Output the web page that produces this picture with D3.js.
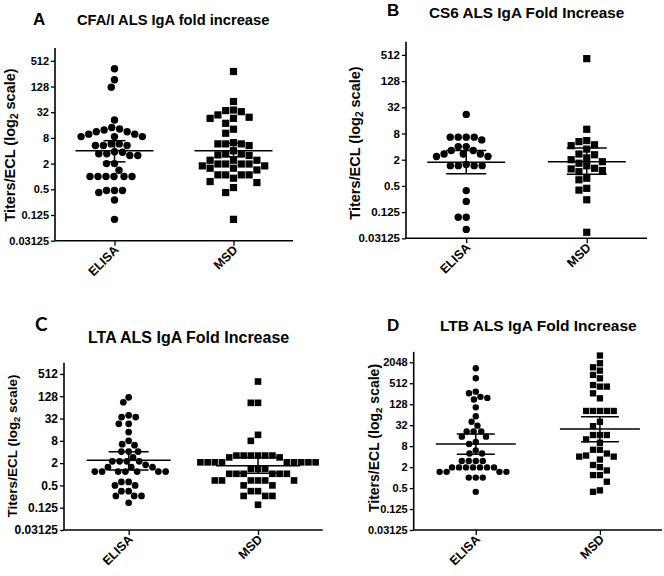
<!DOCTYPE html>
<html><head><meta charset="utf-8">
<script src="https://cdn.jsdelivr.net/npm/d3@7"></script>
<style>
html,body{margin:0;padding:0;background:#fff;}
svg{display:block;}
text{font-family:"Liberation Sans",Arial,sans-serif;font-weight:bold;fill:#000;}
</style></head>
<body>
<svg id="chart" width="664" height="576"></svg>
<script>
// ---------- DATA ----------
const categories = ["ELISA", "MSD"];
const panelLetters = ["A", "B", "C", "D"];
const panelTitles = ["CFA/I ALS IgA fold increase", "CS6 ALS IgA Fold Increase",
                     "LTA ALS IgA Fold Increase", "LTB ALS IgA Fold Increase"];
const yTicksStd = [0.03125, 0.125, 0.5, 2, 8, 32, 128, 512];
const yTicksLTB = [0.03125, 0.125, 0.5, 2, 8, 32, 128, 512, 2048];

// CFA/I
const cfaElisa = [333, 184, 124, 21, 14, 12.3, 11.2, 9.8, 8.6, 8.6, 8.6, 9.8, 11.2, 13,
  5.8, 5.3, 5.3, 5.8, 5.3, 3.8, 3.4, 3.1, 3.7, 3.4, 3.1, 2.0, 2.0, 1.4,
  1, 1, 1, 1, 1, 1, 0.47, 0.42, 0.47, 0.47, 0.28, 0.099];
const cfaMsd = [288, 57, 36, 33, 24.4, 23, 23, 27.7, 35, 17.6, 12.8, 10.3, 6.2, 5.8, 5.8,
  5.3, 5.8, 4.0, 3.4, 3.2, 3.1, 3.4, 2.4, 2.4, 2.4, 1.77, 1.56, 1.96, 1.96, 1.96, 1.96,
  1.42, 1.56, 1.77, 1.09, 1.09, 1.09, 1.09, 0.76, 0.91, 0.72, 0.55, 0.42, 0.099];
const cfaMean = [4.0, 4.0];
const cfaLow = [2.2, 2.9];
const cfaHigh = [6.9, 6.0];

// CS6
const cs6Elisa = [22, 6.6, 6.6, 5.7, 6.6, 6.6, 4.0, 4.0, 3.25, 3.25, 2.7, 2.7, 2.7, 2.36, 2.36,
  1.46, 1.46, 1.46, 1.46, 1.55, 0.39, 0.22, 0.095, 0.095, 0.050];
const cs6Msd = [420, 10, 5.5, 5.2, 4.4, 4.2, 3.5, 2.7, 2.6, 2.2, 2.0, 1.8, 1.66, 1.45, 1.27,
  1.23, 1.06, 1.13, 0.69, 0.75, 0.40, 0.44, 0.24, 0.043];
const cs6Mean = [1.75, 1.8];
const cs6Low = [0.95, 0.93];
const cs6High = [3.25, 3.7];

// LTA
const ltaElisa = [120, 88, 39, 35, 35, 23, 23, 13.8, 8, 6.5, 6.1, 4.1, 4.1, 4.1, 2.85,
  2.23, 2.23, 2.23, 2.23, 1.55, 1.55, 1.55, 1.8, 1.18, 1.18, 1.18, 1.18, 1.18, 1.18, 1.18,
  0.62, 0.62, 0.5, 0.5, 0.35, 0.35, 0.26, 0.26, 0.26, 0.17];
const ltaMsd = [320, 85, 85, 11.6, 8, 3.2, 3.2, 3.2, 3.2, 3.2, 3.2, 2.85, 2.85,
  2.1, 2.1, 2.1, 2.1, 2.1, 2.1, 2.1, 2.1, 2.1, 1.4, 1.4, 1.4,
  1.03, 1.03, 1.03, 1.03, 1.03, 1.03, 0.68, 0.68, 0.68, 0.68, 0.68, 0.68,
  0.5, 0.5, 0.35, 0.35, 0.26, 0.26, 0.26, 0.15];
const ltaMean = [2.4, 1.7];
const ltaLow = [1.31, 1.06];
const ltaHigh = [4.06, 2.85];

// LTB
const ltbElisa = [1380, 710, 263, 294, 208, 175, 194, 104, 58, 40, 31, 21, 21, 21, 15, 15,
  9.2, 10.5, 4.9, 4.9, 6, 3.0, 3.0, 3.0, 3.0, 1.96, 1.96, 1.96, 1.96, 1.96, 1.96, 1.96,
  1.46, 1.46, 1.46, 1.46, 1.0, 1.0, 1.0, 0.39];
const ltbMsd = [3200, 1920, 1470, 1180, 890, 710, 455, 410, 410, 263, 189, 82, 82, 82, 82, 82,
  40, 30, 16.7, 16.7, 16.7, 12.5, 10, 6.3, 6.3, 4.9, 4.0, 3.3, 4.0, 4.3, 2.3, 1.6, 2.0,
  1.18, 1.18, 0.76, 0.39, 0.43];
const ltbMean = [9.2, 24.8];
const ltbLow = [4.7, 10.7];
const ltbHigh = [17.8, 56];

// ---------- LAYOUT ----------
const panels = [
  {elisa: cfaElisa, msd: cfaMsd, mean: cfaMean, lo: cfaLow, hi: cfaHigh, ticks: yTicksStd,
   x0: 55, x1: 293, yTop: 48, yBot: 240.7, maxExp: 10, r: 3.7, sq: 7.2,
   letter: {x: 33, y: 25, size: 17, font: null}, title: {x: 77, y: 25, size: 14.7},
   ylab: {x: 14.5, y: 145, size: 14.5}, tickSize: 11, capHalf: 11, meanHalf: 39},
  {elisa: cs6Elisa, msd: cs6Msd, mean: cs6Mean, lo: cs6Low, hi: cs6High, ticks: yTicksStd,
   x0: 406, x1: 647, yTop: 41.8, yBot: 238.3, maxExp: 10, r: 3.7, sq: 7.2,
   letter: {x: 387, y: 16, size: 17, font: null}, title: {x: 429, y: 17.5, size: 15.3},
   ylab: {x: 360, y: 143, size: 14.5}, tickSize: 11.5, capHalf: 20, meanHalf: 39},
  {elisa: ltaElisa, msd: ltaMsd, mean: ltaMean, lo: ltaLow, hi: ltaHigh, ticks: yTicksStd,
   x0: 64, x1: 322.7, yTop: 362.8, yBot: 530, maxExp: 10, r: 3.35, sq: 6.6,
   letter: {x: 35, y: 331, size: 19, font: "Lato"}, title: {x: 88, y: 342.5, size: 16},
   ylab: {x: 16.5, y: 446, size: 13.5}, tickSize: 12, capHalf: 20, meanHalf: 42},
  {elisa: ltbElisa, msd: ltbMsd, mean: ltbMean, lo: ltbLow, hi: ltbHigh, ticks: yTicksLTB,
   x0: 413.7, x1: 662, yTop: 351.8, yBot: 530, maxExp: 12, r: 3.2, sq: 6.3,
   letter: {x: 387, y: 331, size: 17, font: null}, title: {x: 440, y: 330.5, size: 15.5},
   ylab: {x: 378.5, y: 438, size: 14}, tickSize: 11, capHalf: 19, meanHalf: 40}
];

const svg = d3.select("#chart");

function swarm(values, y, cx, size, square) {
  const d = size + 0.6;
  const pts = values.map(v => ({v, y: y(v), x: 0})).sort((a, b) => a.y - b.y);
  const placed = [];
  pts.forEach(p => {
    const near = placed.filter(q => Math.abs(q.y - p.y) < d);
    const cands = [0];
    near.forEach(q => {
      const dy = Math.abs(q.y - p.y);
      const dx = square ? d : Math.sqrt(d * d - dy * dy);
      cands.push(q.x + dx, q.x - dx);
    });
    cands.sort((a, b) => Math.abs(a) - Math.abs(b) || a - b);
    for (const c of cands) {
      const ok = near.every(q => {
        const dx = Math.abs(q.x - c), dy = Math.abs(q.y - p.y);
        return square ? (dx >= d - 1e-6 || dy >= d - 1e-6) : (dx * dx + dy * dy >= d * d - 1e-6);
      });
      if (ok) { p.x = c; break; }
    }
    placed.push(p);
  });
  pts.forEach(p => p.x += cx);
  return pts;
}

panels.forEach((P, i) => {
  const g = svg.append("g");
  const y = d3.scaleLog().base(2).domain([Math.pow(2, -5), Math.pow(2, P.maxExp)]).range([P.yBot, P.yTop]);
  const x = d3.scalePoint().domain(categories).range([P.x0, P.x1]).padding(0.5);

  // y axis
  const yAxis = d3.axisLeft(y).tickValues(P.ticks).tickFormat(d => String(d)).tickSize(4).tickPadding(2);
  const ya = g.append("g").attr("transform", `translate(${P.x0},0)`).call(yAxis);
  ya.select(".domain").attr("stroke", "#000").attr("stroke-width", 1.6)
    .attr("d", `M0,${P.yTop}V${P.yBot}`);
  ya.selectAll(".tick line").attr("stroke", "#000").attr("stroke-width", 1.3);
  ya.selectAll(".tick text").attr("font-size", P.tickSize).attr("font-weight", "bold")
    .attr("font-family", '"Liberation Sans", Arial, sans-serif').attr("fill", "#000");

  // x axis
  const xAxis = d3.axisBottom(x).tickSize(5).tickFormat("");
  const xa = g.append("g").attr("transform", `translate(0,${P.yBot})`).call(xAxis);
  xa.select(".domain").attr("stroke", "#000").attr("stroke-width", 1.6)
    .attr("d", `M${P.x0},0H${P.x1}`);
  xa.selectAll(".tick line").attr("stroke", "#000").attr("stroke-width", 1.3);
  categories.forEach(c => {
    g.append("text").attr("text-anchor", "end").attr("font-size", 12.5)
      .attr("transform", `translate(${x(c) + 5},${P.yBot + 10}) rotate(-45)`)
      .text(c);
  });

  // y label
  const yl = g.append("text").attr("text-anchor", "middle").attr("font-size", P.ylab.size)
    .attr("transform", `translate(${P.ylab.x},${P.ylab.y}) rotate(-90)`);
  yl.append("tspan").text("Titers/ECL (log");
  yl.append("tspan").attr("font-size", P.ylab.size * 0.7).attr("dy", 3).text("2");
  yl.append("tspan").attr("dy", -3).text(" scale)");

  // titles
  const lt = g.append("text").attr("x", P.letter.x).attr("y", P.letter.y)
    .attr("font-size", P.letter.size).text(panelLetters[i]);
  if (P.letter.font) lt.style("font-family", P.letter.font);
  g.append("text").attr("x", P.title.x).attr("y", P.title.y)
    .attr("font-size", P.title.size).text(panelTitles[i]);

  // points
  const ePts = swarm(P.elisa, y, x("ELISA"), 2 * P.r, false);
  g.selectAll(".c").data(ePts).join("circle")
    .attr("cx", d => d.x).attr("cy", d => d.y).attr("r", P.r).attr("fill", "#000");
  const mPts = swarm(P.msd, y, x("MSD"), P.sq, true);
  g.selectAll(".s").data(mPts).join("rect")
    .attr("x", d => d.x - P.sq / 2).attr("y", d => d.y - P.sq / 2)
    .attr("width", P.sq).attr("height", P.sq).attr("fill", "#000");

  // mean and error bars
  categories.forEach((c, k) => {
    const cx = x(c);
    const line = (x1, y1, x2, y2) => g.append("line").attr("x1", x1).attr("y1", y1)
      .attr("x2", x2).attr("y2", y2).attr("stroke", "#000").attr("stroke-width", 1.5);
    line(cx - P.meanHalf, y(P.mean[k]), cx + P.meanHalf, y(P.mean[k]));
    line(cx, y(P.lo[k]), cx, y(P.hi[k]));
    line(cx - P.capHalf, y(P.lo[k]), cx + P.capHalf, y(P.lo[k]));
    line(cx - P.capHalf, y(P.hi[k]), cx + P.capHalf, y(P.hi[k]));
  });
});
</script>
</body></html>
